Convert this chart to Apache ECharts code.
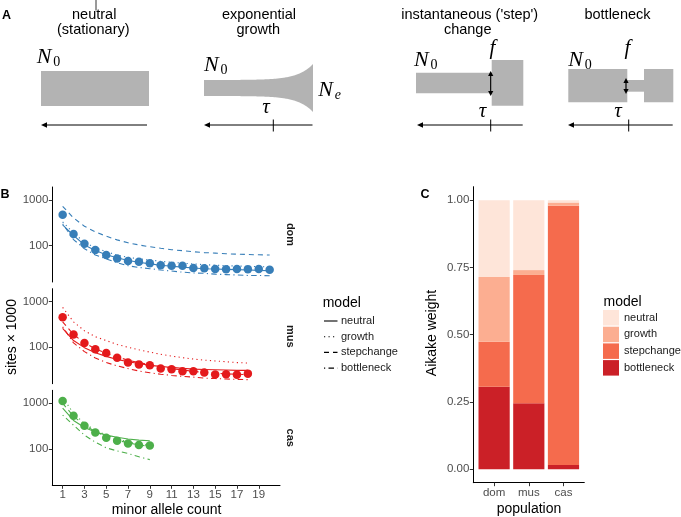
<!DOCTYPE html>
<html><head><meta charset="utf-8">
<script src="https://cdn.jsdelivr.net/npm/echarts@6/dist/echarts.min.js"></script>
<style>html,body{margin:0;padding:0;background:#fff}#c{width:681px;height:517px}</style>
</head><body><div id="c"></div>
<script>
// ---------- data ----------
const domCounts = [1,2,3,4,5,6,7,8,9,10,11,12,13,14,15,16,17,18,19,20];
const musCounts = [1,2,3,4,5,6,7,8,9,10,11,12,13,14,15,16,17,18];
const casCounts = [1,2,3,4,5,6,7,8,9];

const domObserved   = [476,180,109,80,62,52,45.5,44,41,37,36,36,32,31.5,30.5,30,30.5,30,30.5,29.4];
const domNeutral    = [285,166,103,78,63,54,47,43,39.5,37,35,33.5,32,31,30.5,30,29.5,29,28.5,28];
const domGrowth     = [330,190,118,89,73,62,55,51,48,45,43,41,39.5,38,37,36,35.5,35,34.5,34];
const domStep       = [728,404,265,200,160,133,115,103,94,87,81,77,73,70,68,66,64.5,63.5,62.5,62];
const domBottleneck = [300,135,85,62,51,42,36,33,31,29,27.5,26,25,24.5,23.5,23,22.5,22,22,21.7];

const musObserved   = [453,190,124,90,75,59,46,42,40,34,33,29.5,29.5,28,25.3,25.6,25,26.3];
const musNeutral    = [260,140,98,76,63,54,48,44,40,38,36,34.5,33,32.5,32,31.5,31,31];
const musGrowth     = [750,360,230,170,140,115,100,88,78,70,64,59,55,52,50,48,46,45];
const musStep       = [360,190,125,92,74,61,52,46,41,37,34,31.5,29.5,28,27,26,25.5,25];
const musBottleneck = [280,125,80,58,46,39,34,30,27.5,25.5,24,23,22,21,20.5,20,19.7,19.4];

const casObserved   = [1120,533,321,229,175,150,131,122,118];
const casNeutral    = [780,420,295,235,200,180,165,155,150];
const casGrowth     = [1350,600,360,255,200,165,143,128,118];
const casStep       = [1000,520,330,240,185,155,135,122,114];
const casBottleneck = [550,330,200,140,105,90,79,67,58];

const countTicks = [1,3,5,7,9,11,13,15,17,19];
const sitesTicks = [100,1000];

const populations = ['dom','mus','cas'];
const popPositions = [1,2,3];
const weightNeutral    = [0.286,0.260,0.009];
const weightGrowth     = [0.240,0.018,0.012];
const weightStep       = [0.167,0.477,0.963];
const weightBottleneck = [0.307,0.245,0.016];
const weightTicks = [0,0.25,0.5,0.75,1];

const modelNames = ['neutral','growth','stepchange','bottleneck'];

// ---------- styling ----------
const FONT = '"Liberation Sans", Arial, Helvetica, sans-serif';
const SERIF = '"Liberation Serif", "DejaVu Serif", serif';
const modelDash = ['solid',[1.2,3.3],[5,4],[1.2,3.3,5.5,3.3]];
const facets = [
  {label:'dom', counts:domCounts, obs:domObserved, models:[domNeutral,domGrowth,domStep,domBottleneck], color:'#377EB8', top:187},
  {label:'mus', counts:musCounts, obs:musObserved, models:[musNeutral,musGrowth,musStep,musBottleneck], color:'#E41A1C', top:288.7},
  {label:'cas', counts:casCounts, obs:casObserved, models:[casNeutral,casGrowth,casStep,casBottleneck], color:'#4DAF4A', top:390.3}
];
const reds = {neutral:'#FEE5D9', growth:'#FCAE91', stepchange:'#F56B4D', bottleneck:'#CB2027'};

const grids = [], xAxes = [], yAxes = [], series = [];
facets.forEach((f,i)=>{
  grids.push({left:52.3, top:f.top, width:227.7, height:95});
  const isBottom = i === 2;
  xAxes.push({
    type:'value', gridIndex:i, min:0.05, max:20.95, show:isBottom,
    axisLine:{show:true, onZero:false, lineStyle:{color:'#000', width:1}},
    axisTick:{show:true, customValues:countTicks, length:3.5, lineStyle:{color:'#333', width:1}},
    axisLabel:{customValues:countTicks, color:'#4d4d4d', fontSize:11.5, fontFamily:FONT, margin:4},
    splitLine:{show:false}
  });
  yAxes.push({
    type:'log', logBase:10, gridIndex:i, min:15.8, max:1932,
    axisLine:{show:true, onZero:false, lineStyle:{color:'#000', width:1}},
    axisTick:{show:true, customValues:sitesTicks, length:3.5, lineStyle:{color:'#333', width:1}},
    axisLabel:{customValues:sitesTicks, color:'#4d4d4d', fontSize:11.5, fontFamily:FONT, margin:4,
      formatter: v => String(Math.round(v))},
    splitLine:{show:false}, minorTick:{show:false}, minorSplitLine:{show:false}
  });
  series.push({
    type:'scatter', name:f.label+' observed', xAxisIndex:i, yAxisIndex:i,
    data:f.counts.map((c,k)=>[c,f.obs[k]]), symbolSize:8.5,
    itemStyle:{color:f.color, opacity:1}, silent:true, z:2
  });
  modelNames.forEach((m,mi)=>{
    series.push({
      type:'line', name:f.label+' '+m, xAxisIndex:i, yAxisIndex:i,
      data:f.counts.map((c,k)=>[c,f.models[mi][k]]),
      symbol:'none', showSymbol:false, silent:true, z:3,
      lineStyle:{color:f.color, width:1.1, type:modelDash[mi]}
    });
  });
});

// panel C: axes grid (index 3) and bars grid (index 4, category scale)
grids.push({left:473.3, top:186.7, width:111, height:296});
grids.push({left:476.77, top:186.7, width:104.06, height:296});
xAxes.push({
  type:'value', gridIndex:3, min:0.4, max:3.6,
  axisLine:{show:true, onZero:false, lineStyle:{color:'#000', width:1}},
  axisTick:{show:true, customValues:popPositions, length:3.5, lineStyle:{color:'#333'}},
  axisLabel:{customValues:popPositions, color:'#4d4d4d', fontSize:11.5, fontFamily:FONT, margin:4,
    formatter: v => populations[Math.round(v)-1]},
  splitLine:{show:false}
});
yAxes.push({
  type:'value', gridIndex:3, min:-0.05, max:1.05,
  axisLine:{show:true, onZero:false, lineStyle:{color:'#000', width:1}},
  axisTick:{show:true, customValues:weightTicks, length:3.5, lineStyle:{color:'#333'}},
  axisLabel:{customValues:weightTicks, color:'#4d4d4d', fontSize:11.5, fontFamily:FONT, margin:4,
    formatter: v => v.toFixed(2)},
  splitLine:{show:false}
});
xAxes.push({type:'category', gridIndex:4, data:populations, show:false, boundaryGap:true});
yAxes.push({type:'value', gridIndex:4, min:-0.05, max:1.05, show:false, splitLine:{show:false}});
const weightSeries = {bottleneck:weightBottleneck, stepchange:weightStep, growth:weightGrowth, neutral:weightNeutral};
['bottleneck','stepchange','growth','neutral'].forEach(m=>{
  series.push({
    type:'bar', name:m, xAxisIndex:4, yAxisIndex:4, stack:'w', barWidth:'90%',
    data:weightSeries[m], itemStyle:{color:reds[m]}, silent:true
  });
});

// ---------- panel A schematic + labels ----------
const G = '#b3b3b3';
const g = [];
function txt(x,y,s,opt){ g.push({type:'text', x:x, y:y, rotation:(opt&&opt.rot)||0, silent:true,
  style:Object.assign({text:s, fill:'#000', font:'14.5px '+FONT, textAlign:'center', textVerticalAlign:'middle'}, (opt&&opt.style)||{})}); }
function rect(x1,y1,x2,y2){ g.push({type:'rect', silent:true, shape:{x:x1,y:y1,width:x2-x1,height:y2-y1}, style:{fill:G}}); }
function line(x1,y1,x2,y2,w,dash){ g.push({type:'line', silent:true, shape:{x1,y1,x2,y2}, style:{stroke:'#000', lineWidth:w||1, lineDash:dash||null}}); }
function poly(pts,fill){ g.push({type:'polygon', silent:true, shape:{points:pts}, style:{fill:fill||'#000'}}); }
function timeArrow(x1,x2,tick){ line(x1+4,125,x2,125); poly([[x1,125],[x1+6,122.3],[x1+6,127.7]]);
  if(tick!=null) line(tick,119.5,tick,131.5); }
function dblArrow(x,y1,y2){ line(x,y1+3,x,y2-3,1.2); poly([[x,y1],[x-2.6,y1+5],[x+2.6,y1+5]]); poly([[x,y2],[x-2.6,y2-5],[x+2.6,y2-5]]); }
function N0(x,y,sub){ txt(x,y,'N',{style:{font:'italic 22px '+SERIF, textAlign:'left'}});
  txt(x+16.5,y+5,sub||'0',{style:{font:(sub?'italic ':'')+'14px '+SERIF, textAlign:'left'}}); }
function mathSym(x,y,s){ txt(x,y,s,{style:{font:'italic 21px '+SERIF}}); }

line(96,0,96,10.5,0.8);
txt(6.5,16,'A',{style:{font:'bold 12.5px '+FONT}});
txt(5,195,'B',{style:{font:'bold 12.5px '+FONT}});
txt(425,195,'C',{style:{font:'bold 12.5px '+FONT}});

// neutral
txt(94.2,15,'neutral'); txt(93.3,30,'(stationary)');
rect(41,71,149,106); N0(36.7,57.5); timeArrow(41,147,null);
// exponential growth
txt(259,15,'exponential'); txt(258.3,30,'growth');
(function(){ const top=[], bot=[]; for(let x=204;x<=313;x+=1){ const h=8+16*Math.exp((x-313)/15); top.push([x,88-h]); bot.push([x,88+h]); }
  g.push({type:'polygon', silent:true, shape:{points:top.concat(bot.reverse())}, style:{fill:G}}); })();
N0(204,65); N0(318.3,90,'e'); mathSym(266,107.5,'τ'); timeArrow(204,312.5,273.3);
// step change
txt(469.7,15,"instantaneous ('step')"); txt(467.7,30,'change');
rect(416,72.7,491.7,93.3); rect(491.7,60,523.3,105.7); dblArrow(490.7,71,96);
N0(414,60); mathSym(492.5,48,'f'); mathSym(482.5,111.5,'τ'); timeArrow(417,522.7,490.7);
// bottleneck
txt(617.5,15,'bottleneck');
rect(568.3,69,627.3,102.3); rect(627,80,644.3,91.7); rect(644,69,673.3,102.3); dblArrow(626,78,94);
N0(568.3,60); mathSym(627.5,48,'f'); mathSym(618,111.5,'τ'); timeArrow(568,672.7,628.7);

// facet strips
facets.forEach(f=>{ txt(290, f.top+47.5, f.label, {rot:-Math.PI/2, style:{font:'bold 11px '+FONT, fill:'#1a1a1a'}}); });
// axis titles
txt(11.7,337,'sites × 1000',{rot:Math.PI/2, style:{font:'14px '+FONT}});
txt(166.5,510,'minor allele count',{style:{font:'14px '+FONT}});
txt(432,333,'Aikake weight',{rot:Math.PI/2, style:{font:'14px '+FONT}});
txt(529,509,'population',{style:{font:'14px '+FONT}});
// legend B (line keys)
txt(322.7,303,'model',{style:{font:'14px '+FONT, textAlign:'left'}});
modelNames.forEach((m,mi)=>{
  const y = 321 + mi*15.7;
  const d = modelDash[mi];
  line(324,y,337.5,y,1.1, d==='solid'?null:d);
  txt(341,y,m,{style:{font:'11px '+FONT, fill:'#1a1a1a', textAlign:'left'}});
});
// legend C title
txt(603.5,301.7,'model',{style:{font:'14px '+FONT, textAlign:'left'}});

const chart = echarts.init(document.getElementById('c'), null, {renderer:'canvas'});
chart.setOption({
  animation:false,
  backgroundColor:'#fff',
  textStyle:{fontFamily:FONT},
  grid:grids, xAxis:xAxes, yAxis:yAxes, series:series,
  legend:[
    {left:603, top:310, orient:'vertical', padding:0, itemWidth:16, itemHeight:15.5, itemGap:1.2, selectedMode:false,
     icon:'rect', data:modelNames, textStyle:{fontSize:11, color:'#1a1a1a', fontFamily:FONT}}
  ],
  graphic:g
});
</script></body></html>
